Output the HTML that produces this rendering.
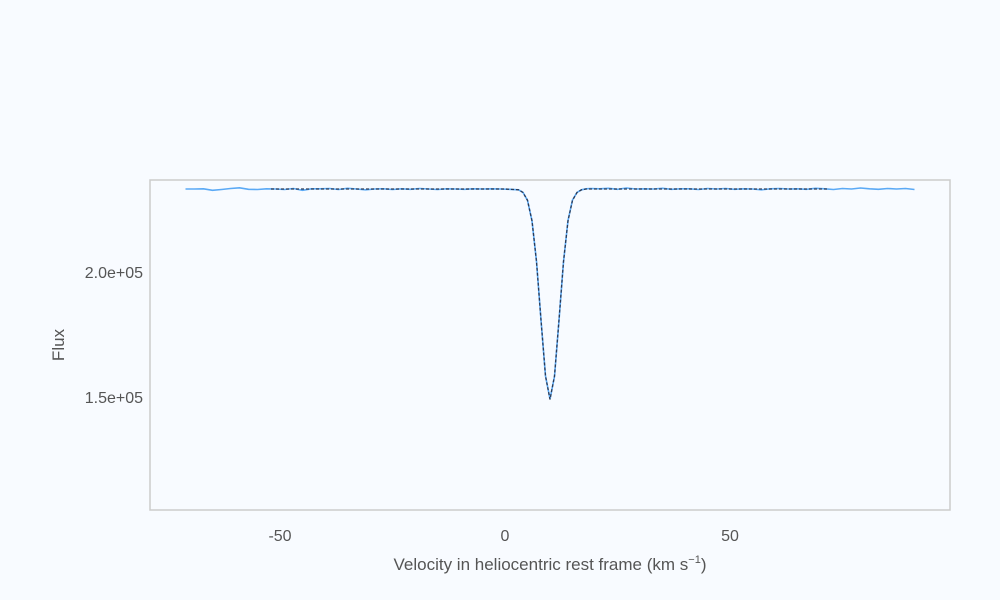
<!DOCTYPE html>
<html><head><meta charset="utf-8"><style>
html,body{margin:0;padding:0;background:#f8fbff;}
svg{display:block;font-family:"Liberation Sans",sans-serif;}
</style></head><body>
<svg id="chart" width="1000" height="600" viewBox="0 0 1000 600">
<rect x="0" y="0" width="1000" height="600" fill="#f8fbff"/>
<rect x="150" y="180" width="800" height="330" fill="#f8fbff" stroke="#cccccc" stroke-width="1.5"/>
<g id="ticks"></g>
<g id="series"></g>
<text x="550" y="570" text-anchor="middle" font-size="17" fill="#555">Velocity in heliocentric rest frame (km s<tspan dy="-7" font-size="11">−1</tspan><tspan dy="7">)</tspan></text>
<text transform="translate(64,345) rotate(-90)" text-anchor="middle" font-size="17" fill="#555">Flux</text>
</svg>
<script>
const xTicks=[-50,0,50];
const xTickLabels=["-50","0","50"];
const yTicks=[150000,200000];
const yTickLabels=["1.5e+05","2.0e+05"];
const dataVel=[-71,-69,-67,-65,-63,-61,-59,-57,-55,-53,-51,-49,-47,-45,-43,-41,-39,-37,-35,-33,-31,-29,-27,-25,-23,-21,-19,-17,-15,-13,-11,-9,-7,-5,-3,-1,1,3,4,5,6,7,8,9,10,11,12,13,14,15,16,17,18,19,21,23,25,27,29,31,33,35,37,39,41,43,45,47,49,51,53,55,57,59,61,63,65,67,69,71,73,75,77,79,81,83,85,87,89,91];
const dataFlux=[233200,233200,233300,232700,233000,233400,233700,233100,233000,233300,233200,233000,233400,232700,233300,233300,233400,233000,233500,233200,232900,233200,233300,233000,233300,233100,233400,233200,233000,233300,233200,233100,233300,233200,233300,233200,233100,232900,231800,228700,220500,204200,180800,158400,149200,158200,180700,204000,220600,228800,231800,232900,233300,233400,233300,233500,233100,233600,233200,233300,233200,233500,233100,233300,233300,233000,233400,233200,233400,233100,233300,233200,232900,233300,233400,233200,233300,233100,233500,233300,233000,233400,233200,233600,233300,233100,233400,233200,233400,233000,233500];
const fitVel=[-52,-40,-30,-20,-10,0,3,4,5,6,7,8,9,10,11,12,13,14,15,16,17,18,20,30,40,50,60,72];
const fitFlux=[233200,233200,233200,233200,233200,233200,232900,231800,228700,220500,204200,180800,158400,149000,158400,180800,204200,220500,228700,231800,232900,233200,233200,233200,233200,233200,233200,233200];

const NS='http://www.w3.org/2000/svg';
const xPx=v=>505+(v)*4.5;
const yPx=f=>272-(f-200000)*0.0025;
const tg=document.getElementById('ticks');
xTicks.forEach((t,i)=>{
  const l=document.createElementNS(NS,'text');
  
  
  l.setAttribute('x',xPx(t));l.setAttribute('y',541);
  l.setAttribute('text-anchor','middle');l.setAttribute('font-size','16');l.setAttribute('fill','#555');
  l.textContent=xTickLabels[i];tg.appendChild(l);
});
yTicks.forEach((t,i)=>{
  const l=document.createElementNS(NS,'text');
  
  
  l.setAttribute('x',143);l.setAttribute('y',yPx(t)+6);
  l.setAttribute('text-anchor','end');l.setAttribute('font-size','16');l.setAttribute('fill','#555');
  l.textContent=yTickLabels[i];tg.appendChild(l);
});
const sg=document.getElementById('series');
function line(vs,fs,color,w,dash,name){
  const p=document.createElementNS(NS,'polyline');
  
  
  p.setAttribute('points',vs.map((v,i)=>xPx(v).toFixed(1)+','+yPx(fs[i]).toFixed(1)).join(' '));
  p.setAttribute('fill','none');p.setAttribute('stroke',color);p.setAttribute('stroke-width',w);
  if(dash)p.setAttribute('stroke-dasharray',dash);
  sg.appendChild(p);
}
line(dataVel,dataFlux,'#5aa9f5',1.6,null,'observed-flux-line');
line(fitVel,fitFlux,'#2b3a55',1.3,'3,2','model-fit-line');
</script>
</body></html>
